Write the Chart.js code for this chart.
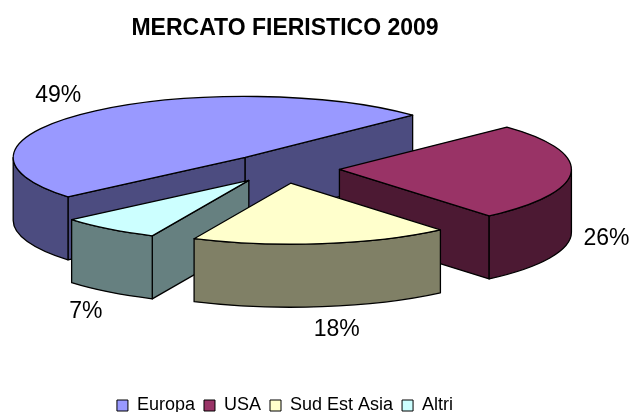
<!DOCTYPE html>
<html><head><meta charset="utf-8">
<style>html,body{margin:0;padding:0;background:#fff}#w{width:631px;height:412px}</style>
<script src="https://cdn.jsdelivr.net/npm/chart.js@4"></script></head>
<body><div id="w"><canvas id="c" width="631" height="412"></canvas></div>
<script>
const categories = ['Europa', 'USA', 'Sud Est Asia', 'Altri'];
const shares = [49, 26, 18, 7];
const topColors = ['#9999FF', '#993366', '#FFFFCC', '#CCFFFF'];
const wallColors = ['#4C4C80', '#4C1933', '#808066', '#668080'];
const labelShift = [[-187, -62], [267, 69], [46, 146], [-163, 131]];
const SQUASH = 0.263, DEPTH = 63, CENTER_X = 283, CENTER_Y = 168.5, EXPLODE = 56.5;
const FONT = '"Liberation Sans", Arial, sans-serif';

const pie3d = {
  id: 'pie3d',
  beforeDatasetsDraw(chart) {
    const ctx = chart.ctx, arcs = chart.getDatasetMeta(0).data;
    const slices = arcs.map((a, i) => {
      const mid = (a.startAngle + a.endAngle) / 2;
      return { i, el: a, a: a.startAngle, b: a.endAngle, r: a.outerRadius,
        x: CENTER_X + Math.cos(mid) * EXPLODE,
        y: CENTER_Y + Math.sin(mid) * EXPLODE * SQUASH };
    });
    ctx.save();
    ctx.lineWidth = 1.3; ctx.strokeStyle = '#000'; ctx.lineJoin = 'round';
    const rim = (s, t) => [s.x + s.r * Math.cos(t), s.y + s.r * SQUASH * Math.sin(t)];
    [...slices].sort((p, q) => p.y - q.y).forEach(s => {
      ctx.fillStyle = wallColors[s.i];
      const radial = t => {
        const [px, py] = rim(s, t);
        ctx.beginPath();
        ctx.moveTo(s.x, s.y); ctx.lineTo(px, py);
        ctx.lineTo(px, py + DEPTH); ctx.lineTo(s.x, s.y + DEPTH);
        ctx.closePath(); ctx.fill(); ctx.stroke();
      };
      if (-Math.cos(s.a) > 0) radial(s.a);
      if (Math.cos(s.b) > 0) radial(s.b);
      for (let k = -1; k < 3; k++) {
        const lo = Math.max(s.a, 2 * Math.PI * k), hi = Math.min(s.b, 2 * Math.PI * k + Math.PI);
        if (hi <= lo) continue;
        ctx.beginPath();
        ctx.ellipse(s.x, s.y, s.r, s.r * SQUASH, 0, lo, hi);
        ctx.ellipse(s.x, s.y + DEPTH, s.r, s.r * SQUASH, 0, hi, lo, true);
        ctx.closePath(); ctx.fill(); ctx.stroke();
      }
    });
    slices.forEach(s => {
      ctx.save();
      ctx.translate(s.x, s.y); ctx.scale(1, SQUASH); ctx.translate(-s.el.x, -s.el.y);
      s.el.draw(ctx, chart.chartArea);
      ctx.restore();
      ctx.beginPath();
      ctx.moveTo(s.x, s.y);
      ctx.ellipse(s.x, s.y, s.r, s.r * SQUASH, 0, s.a, s.b);
      ctx.closePath(); ctx.stroke();
    });
    ctx.fillStyle = '#000';
    ctx.font = '23px ' + FONT;
    ctx.textAlign = 'center'; ctx.textBaseline = 'middle';
    slices.forEach(s => {
      ctx.fillText(shares[s.i] + '%', s.x + labelShift[s.i][0], s.y + labelShift[s.i][1]);
    });
    ctx.restore();
  },
  beforeDatasetDraw() { return false; }
};

new Chart(document.getElementById('c'), {
  type: 'pie',
  plugins: [pie3d],
  data: {
    labels: categories,
    datasets: [{
      data: shares,
      backgroundColor: topColors,
      borderWidth: 0,
      radius: 232,
      clip: false
    }]
  },
  options: {
    responsive: false,
    animation: false,
    rotation: 229.8,
    layout: { padding: { left: 0, right: 61, top: 0, bottom: -12.5 } },
    plugins: {
      tooltip: { enabled: false },
      title: {
        display: true,
        text: 'MERCATO FIERISTICO 2009',
        color: '#000',
        font: { family: FONT, size: 23, weight: 'bold' },
        padding: { top: 15, bottom: 10 }
      },
      legend: {
        position: 'bottom',
        labels: {
          color: '#000',
          font: { family: FONT, size: 18 },
          boxWidth: 11, boxHeight: 11, padding: 9,
          generateLabels(chart) {
            return categories.map((t, i) => ({
              text: t, fillStyle: topColors[i], strokeStyle: '#000', lineWidth: 1,
              index: i, hidden: false
            }));
          }
        }
      }
    }
  }
});
</script></body></html>
